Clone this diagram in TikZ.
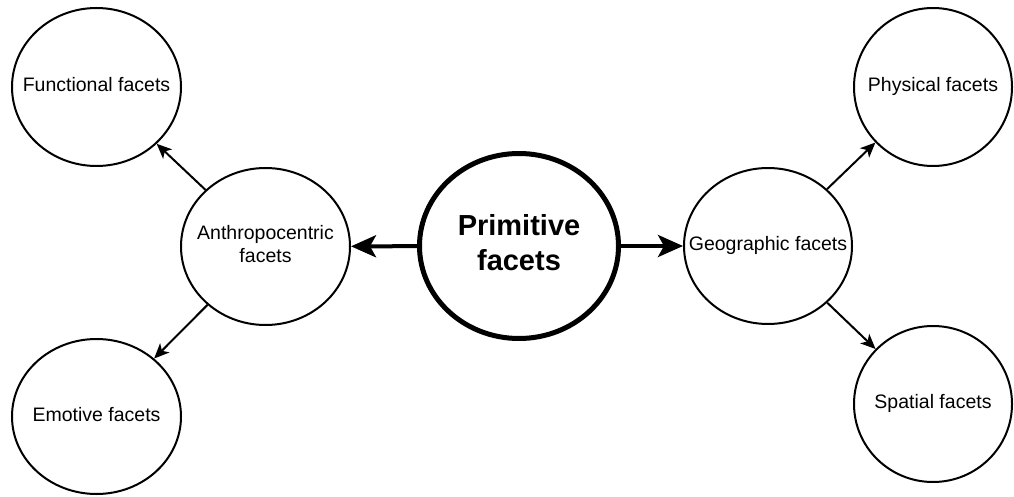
\documentclass[tikz,border=0pt]{standalone}
\usepackage{fontspec}
\setmainfont{Liberation Sans}
\usetikzlibrary{shapes.geometric,arrows.meta}
\newcommand{\ctext}[1]{\makebox[0pt]{\begin{tabular}{@{}c@{}}#1\end{tabular}}}
\begin{document}
\begin{tikzpicture}[x=1pt,y=-1pt,
  facet/.style={draw=black,line width=2pt,ellipse,inner sep=0pt,
    font=\fontsize{19.5}{23.5}\selectfont},
  mainfacet/.style={draw=black,line width=5pt,ellipse,inner sep=0pt,
    font=\fontsize{29}{35}\selectfont\bfseries},
  thinarrow/.style={line width=2pt,-{Stealth[length=15pt,width=13pt,inset=4pt]}},
  thickarrow/.style={line width=4pt,-{Stealth[length=25pt,width=22pt,inset=6pt]}}]
\useasboundingbox (0,0) rectangle (1014,497);
\node[mainfacet,minimum width=199pt,minimum height=185pt] (prim) at (519,246) {\ctext{Primitive\\facets}};
\node[facet,minimum width=169pt,minimum height=157pt] (anth) at (265.5,246.5) {\ctext{Anthropocentric\\facets}};
\node[facet,minimum width=168pt,minimum height=156pt] (geo) at (768,246) {\ctext{Geographic facets}};
\node[facet,minimum width=169pt,minimum height=158pt] (func) at (96.5,87) {\ctext{Functional facets}};
\node[facet,minimum width=169pt,minimum height=155pt] (emot) at (96.5,416.5) {\ctext{Emotive facets}};
\node[facet,minimum width=158pt,minimum height=158pt] (phys) at (933,87) {\ctext{Physical facets}};
\node[facet,minimum width=158pt,minimum height=156pt] (spat) at (933,404) {\ctext{Spatial facets}};
\draw[thickarrow] (prim) -- (anth);
\draw[thickarrow] (prim) -- (geo);
\draw[thinarrow] (anth) -- (func);
\draw[thinarrow] (anth) -- (emot);
\draw[thinarrow] (geo) -- (phys);
\draw[thinarrow] (geo) -- (spat);
\end{tikzpicture}
\end{document}
